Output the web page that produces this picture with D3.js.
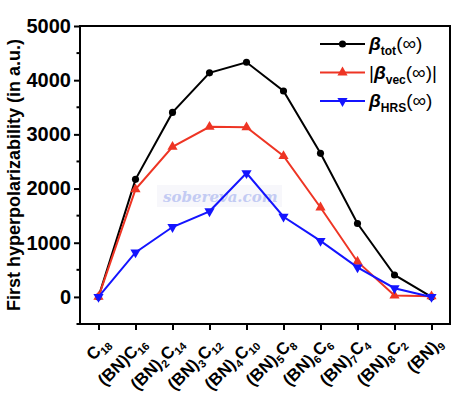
<!DOCTYPE html>
<html>
<head>
<meta charset="utf-8">
<script src="https://cdn.jsdelivr.net/npm/d3@7"></script>
<style>
  body { margin: 0; background: #fff; }
  svg { display: block; font-family: Arial, "Liberation Sans", sans-serif; }
</style>
</head>
<body>
<svg id="chart" width="465" height="397"></svg>
<script>
// category labels: alternating main text / subscript
const categories = [
  ["C", "18"], ["(BN)C", "16"], ["(BN)", "2", "C", "14"], ["(BN)", "3", "C", "12"],
  ["(BN)", "4", "C", "10"], ["(BN)", "5", "C", "8"], ["(BN)", "6", "C", "6"],
  ["(BN)", "7", "C", "4"], ["(BN)", "8", "C", "2"], ["(BN)", "9"]
];
const betaTot = [0, 2170, 3405, 4135, 4330, 3800, 2650, 1355, 405, 0];
const betaVec = [0, 1985, 2770, 3140, 3130, 2600, 1650, 650, 25, 10];
const betaHRS = [0, 822, 1290, 1580, 2285, 1480, 1035, 545, 160, 0];
const yTicks = [0, 1000, 2000, 3000, 4000, 5000];
const yMinorTicks = [-500, 500, 1500, 2500, 3500, 4500];

const svg = d3.select('#chart');
const margin = {top: 26, right: 15, bottom: 73, left: 80};
const W = 465, H = 397;

const x = d3.scaleLinear().domain([-0.5, categories.length - 0.5]).range([margin.left, W - margin.right]);
const y = d3.scaleLinear().domain([-500, 5000]).range([H - margin.bottom, margin.top]);

// watermark
svg.append('rect')
  .attr('x', 157).attr('y', 185).attr('width', 125).attr('height', 22)
  .style('fill', '#f7f7fb');
svg.append('text')
  .attr('x', 163).attr('y', 202)
  .style('font-family', '"DejaVu Serif", "Liberation Serif", serif')
  .style('font-style', 'italic').style('font-weight', 'bold')
  .style('font-size', '15px')
  .style('fill', '#c3cbf3')
  .text('sobereva.com');

// y axis
const yAxis = d3.axisLeft(y).tickValues(yTicks).tickFormat(d3.format('d')).tickSize(6).tickPadding(3);
const gy = svg.append('g').attr('transform', `translate(${margin.left},0)`).call(yAxis);
gy.selectAll('text').style('font-size', '20px').style('font-weight', 'bold').style('fill', '#000');
gy.select('.domain').remove();
gy.selectAll('line').style('stroke-width', 2);
svg.append('g').selectAll('line')
  .data(yMinorTicks)
  .join('line')
  .attr('x1', margin.left - 3.5).attr('x2', margin.left)
  .attr('y1', d => y(d)).attr('y2', d => y(d))
  .style('stroke', '#000').style('stroke-width', 2);

// x axis ticks
const xAxis = d3.axisBottom(x).tickValues(d3.range(categories.length)).tickSize(6).tickFormat('');
const gx = svg.append('g').attr('transform', `translate(0,${H - margin.bottom})`).call(xAxis);
gx.select('.domain').remove();
gx.selectAll('line').style('stroke-width', 2);

// x labels, rotated
const xl = svg.append('g').selectAll('text')
  .data(categories)
  .join('text')
  .attr('transform', (d, i) => `translate(${x(i) + 12},${H - margin.bottom + 20}) rotate(-45)`)
  .attr('text-anchor', 'end')
  .style('font-size', '17px').style('font-weight', 'bold');
xl.each(function(d) {
  const t = d3.select(this);
  d.forEach((part, k) => {
    const sub = k % 2 === 1;
    t.append('tspan')
      .attr('dy', sub ? 4 : (k > 0 ? -4 : 0))
      .style('font-size', sub ? '11px' : '17px')
      .text(part);
  });
});

// frame
svg.append('rect')
  .attr('x', margin.left).attr('y', margin.top)
  .attr('width', W - margin.left - margin.right)
  .attr('height', H - margin.top - margin.bottom)
  .style('fill', 'none').style('stroke', '#000').style('stroke-width', 2);

// y title
svg.append('text')
  .attr('transform', `translate(20,${(margin.top + H - margin.bottom) / 2}) rotate(-90)`)
  .attr('text-anchor', 'middle')
  .style('font-size', '18px').style('font-weight', 'bold')
  .text('First hyperpolarizability (in a.u.)');

// series
const series = [
  {vals: betaTot, color: '#000000', sym: d3.symbolCircle, rot: 0, size: 40},
  {vals: betaVec, color: '#ee3524', sym: d3.symbolTriangle, rot: 0, size: 45},
  {vals: betaHRS, color: '#1414ff', sym: d3.symbolTriangle, rot: 180, size: 45}
];
const line = d3.line().x((d, i) => x(i)).y(d => y(d));

series.forEach(s => {
  svg.append('path')
    .datum(s.vals)
    .attr('d', line)
    .style('fill', 'none').style('stroke', s.color).style('stroke-width', 2);
  svg.append('g').selectAll('path')
    .data(s.vals)
    .join('path')
    .attr('d', d3.symbol().type(s.sym).size(s.size))
    .attr('transform', (d, i) => `translate(${x(i)},${y(d)}) rotate(${s.rot})`)
    .style('fill', s.color);
});

// legend
const legRows = [
  {pre: '', sub: 'tot', post: '(∞)'},
  {pre: '|', sub: 'vec', post: '(∞)|'},
  {pre: '', sub: 'HRS', post: '(∞)'}
];
const lg = svg.append('g');
legRows.forEach((r, i) => {
  const s = series[i];
  const yy = 44 + i * 28.5;
  lg.append('line').attr('x1', 320).attr('x2', 365).attr('y1', yy).attr('y2', yy)
    .style('stroke', s.color).style('stroke-width', 2);
  lg.append('path')
    .attr('d', d3.symbol().type(s.sym).size(s.size))
    .attr('transform', `translate(342.5,${yy}) rotate(${s.rot})`)
    .style('fill', s.color);
  const t = lg.append('text').attr('x', 369).attr('y', yy + 6)
    .style('font-size', '19px').style('font-weight', 'bold');
  if (r.pre) t.append('tspan').style('font-weight', 'normal').text(r.pre);
  t.append('tspan').style('font-style', 'italic').text('β');
  t.append('tspan').attr('dy', 5).style('font-size', '12px').text(r.sub);
  t.append('tspan').attr('dy', -5).style('font-weight', 'normal').text(r.post);
});
</script>
</body>
</html>
